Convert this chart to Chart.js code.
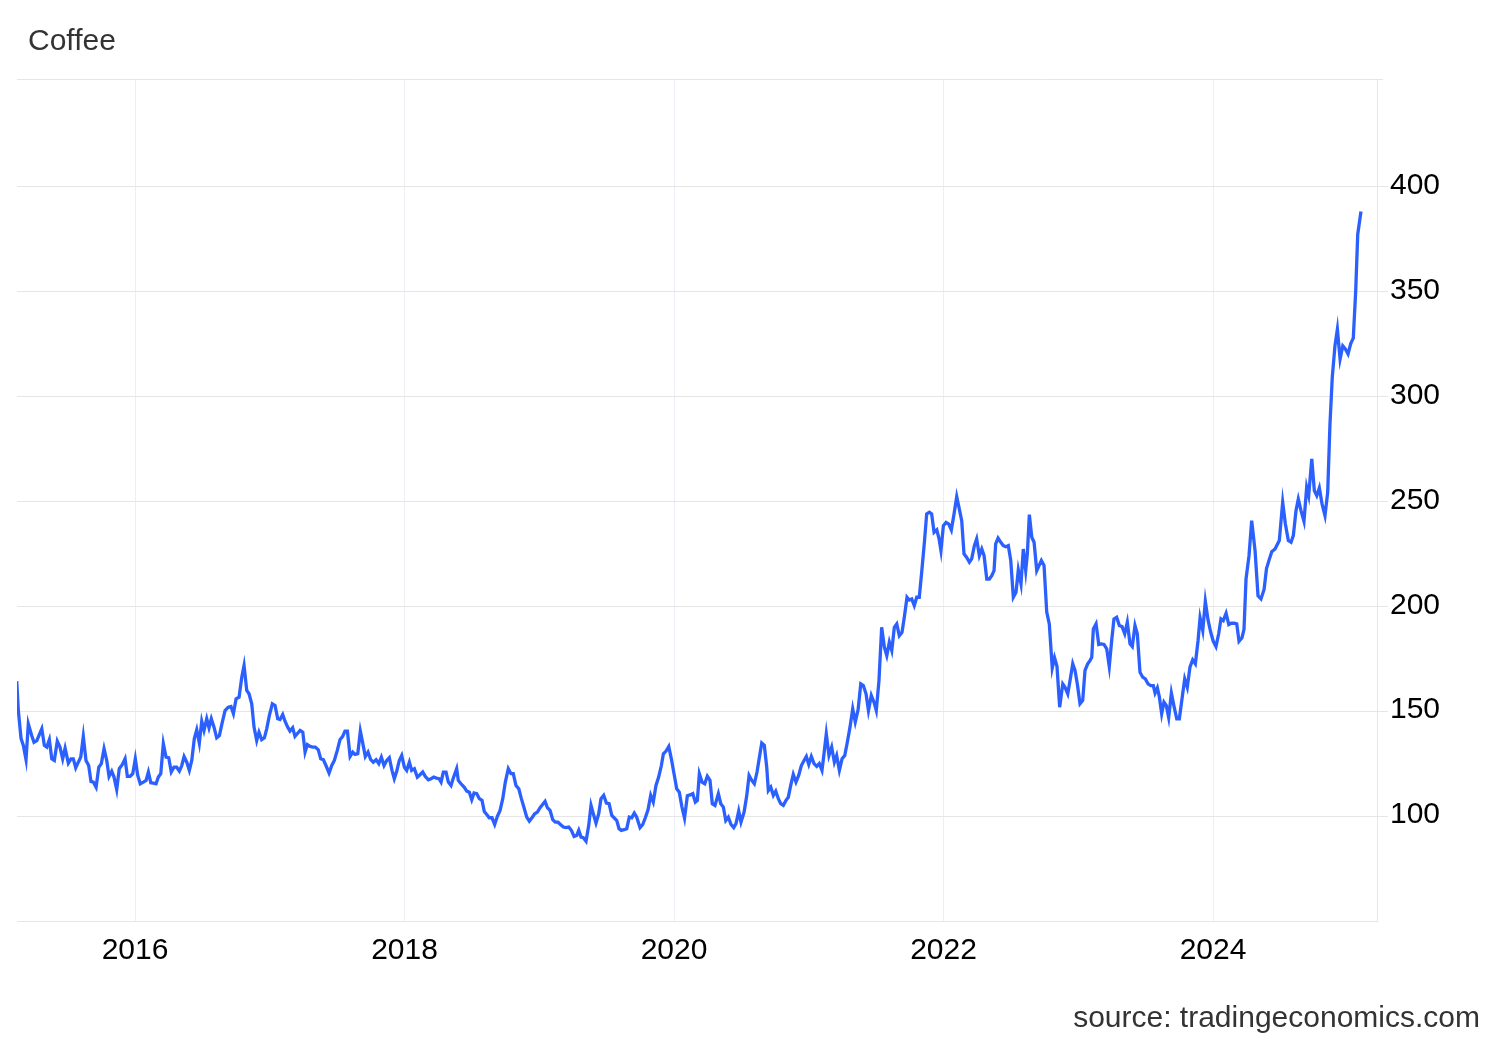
<!DOCTYPE html>
<html>
<head>
<meta charset="utf-8">
<title>Coffee</title>
<script src="https://cdn.jsdelivr.net/npm/chart.js@4.4.1/dist/chart.umd.min.js"></script>
<style>
  html, body { margin: 0; padding: 0; background: #fff; }
  #wrap { position: relative; width: 1500px; height: 1040px; font-family: 'Liberation Sans', Arial, sans-serif; }
  #chartCoffee { position: absolute; left: 0; top: 0; }
  .title { position: absolute; left: 28px; top: 25px; font-size: 30px; line-height: 30px; color: #333; white-space: nowrap; }
  .source { position: absolute; right: 20px; top: 1002px; font-size: 30px; line-height: 30px; color: #333; white-space: nowrap; }
</style>
</head>
<body>
<div id="wrap">
  <canvas id="chartCoffee" width="1500" height="1040"></canvas>
  <div class="title">Coffee</div>
  <div class="source">source: tradingeconomics.com</div>
</div>
<script>
// weekly coffee price (USd/Lbs), dates as decimal years
const dates = [
  2015.122, 2015.134, 2015.154, 2015.171, 2015.191, 2015.208, 2015.233, 2015.250, 2015.271, 2015.308,
  2015.327, 2015.345, 2015.364, 2015.382, 2015.401, 2015.423, 2015.443, 2015.463, 2015.481, 2015.505,
  2015.525, 2015.542, 2015.560, 2015.579, 2015.597, 2015.616, 2015.636, 2015.656, 2015.673, 2015.691,
  2015.711, 2015.731, 2015.750, 2015.770, 2015.790, 2015.807, 2015.827, 2015.844, 2015.864, 2015.883,
  2015.906, 2015.926, 2015.943, 2015.963, 2015.983, 2016.002, 2016.020, 2016.039, 2016.062, 2016.082,
  2016.099, 2016.117, 2016.136, 2016.156, 2016.173, 2016.191, 2016.210, 2016.230, 2016.250, 2016.269,
  2016.289, 2016.309, 2016.329, 2016.347, 2016.364, 2016.384, 2016.403, 2016.421, 2016.440, 2016.458,
  2016.477, 2016.495, 2016.512, 2016.532, 2016.549, 2016.566, 2016.586, 2016.606, 2016.626, 2016.646,
  2016.668, 2016.692, 2016.712, 2016.730, 2016.750, 2016.772, 2016.792, 2016.809, 2016.829, 2016.846,
  2016.866, 2016.883, 2016.903, 2016.920, 2016.940, 2016.960, 2016.977, 2016.997, 2017.019, 2017.039,
  2017.059, 2017.076, 2017.096, 2017.113, 2017.133, 2017.150, 2017.170, 2017.187, 2017.207, 2017.225,
  2017.245, 2017.262, 2017.279, 2017.299, 2017.319, 2017.338, 2017.360, 2017.378, 2017.397, 2017.417,
  2017.440, 2017.460, 2017.479, 2017.501, 2017.521, 2017.541, 2017.558, 2017.576, 2017.596, 2017.616,
  2017.633, 2017.653, 2017.672, 2017.690, 2017.709, 2017.729, 2017.749, 2017.768, 2017.789, 2017.809,
  2017.828, 2017.848, 2017.868, 2017.887, 2017.907, 2017.924, 2017.942, 2017.961, 2017.979, 2017.999,
  2018.016, 2018.036, 2018.053, 2018.073, 2018.095, 2018.115, 2018.135, 2018.154, 2018.177, 2018.197,
  2018.217, 2018.236, 2018.256, 2018.271, 2018.288, 2018.308, 2018.325, 2018.345, 2018.362, 2018.387,
  2018.399, 2018.419, 2018.442, 2018.462, 2018.481, 2018.499, 2018.516, 2018.536, 2018.555, 2018.575,
  2018.592, 2018.610, 2018.629, 2018.649, 2018.669, 2018.689, 2018.709, 2018.729, 2018.748, 2018.770,
  2018.790, 2018.807, 2018.827, 2018.848, 2018.867, 2018.887, 2018.907, 2018.926, 2018.946, 2018.966,
  2018.986, 2019.006, 2019.026, 2019.043, 2019.060, 2019.080, 2019.100, 2019.119, 2019.139, 2019.159,
  2019.179, 2019.199, 2019.219, 2019.238, 2019.258, 2019.278, 2019.293, 2019.310, 2019.327, 2019.347,
  2019.367, 2019.384, 2019.401, 2019.421, 2019.441, 2019.458, 2019.478, 2019.498, 2019.518, 2019.538,
  2019.555, 2019.575, 2019.592, 2019.609, 2019.629, 2019.649, 2019.668, 2019.686, 2019.705, 2019.723,
  2019.748, 2019.768, 2019.787, 2019.807, 2019.827, 2019.846, 2019.866, 2019.886, 2019.906, 2019.921,
  2019.941, 2019.961, 2019.980, 2020.000, 2020.020, 2020.039, 2020.059, 2020.078, 2020.099, 2020.119,
  2020.139, 2020.158, 2020.173, 2020.188, 2020.208, 2020.228, 2020.247, 2020.267, 2020.284, 2020.304,
  2020.329, 2020.347, 2020.366, 2020.384, 2020.403, 2020.423, 2020.443, 2020.460, 2020.480, 2020.497,
  2020.520, 2020.540, 2020.557, 2020.577, 2020.596, 2020.616, 2020.633, 2020.651, 2020.670, 2020.688,
  2020.700, 2020.718, 2020.737, 2020.755, 2020.774, 2020.792, 2020.811, 2020.831, 2020.848, 2020.866,
  2020.885, 2020.905, 2020.925, 2020.945, 2020.965, 2020.982, 2021.000, 2021.019, 2021.039, 2021.059,
  2021.078, 2021.098, 2021.113, 2021.130, 2021.150, 2021.170, 2021.190, 2021.207, 2021.227, 2021.247,
  2021.267, 2021.286, 2021.306, 2021.326, 2021.345, 2021.366, 2021.386, 2021.405, 2021.425, 2021.443,
  2021.464, 2021.484, 2021.501, 2021.521, 2021.541, 2021.561, 2021.579, 2021.598, 2021.616, 2021.635,
  2021.653, 2021.672, 2021.692, 2021.709, 2021.729, 2021.746, 2021.764, 2021.783, 2021.801, 2021.820,
  2021.838, 2021.858, 2021.875, 2021.895, 2021.912, 2021.930, 2021.950, 2021.967, 2021.981, 2021.999,
  2022.019, 2022.039, 2022.058, 2022.078, 2022.098, 2022.117, 2022.135, 2022.152, 2022.172, 2022.192,
  2022.209, 2022.229, 2022.246, 2022.266, 2022.284, 2022.301, 2022.321, 2022.340, 2022.358, 2022.375,
  2022.387, 2022.405, 2022.425, 2022.444, 2022.462, 2022.481, 2022.499, 2022.518, 2022.538, 2022.555,
  2022.575, 2022.592, 2022.610, 2022.622, 2022.637, 2022.655, 2022.672, 2022.692, 2022.709, 2022.726,
  2022.746, 2022.766, 2022.785, 2022.807, 2022.824, 2022.842, 2022.862, 2022.885, 2022.902, 2022.922,
  2022.939, 2022.959, 2022.976, 2022.993, 2023.013, 2023.033, 2023.050, 2023.070, 2023.087, 2023.100,
  2023.112, 2023.132, 2023.152, 2023.171, 2023.191, 2023.211, 2023.230, 2023.248, 2023.265, 2023.285,
  2023.305, 2023.325, 2023.345, 2023.364, 2023.384, 2023.401, 2023.421, 2023.438, 2023.458, 2023.478,
  2023.498, 2023.518, 2023.538, 2023.557, 2023.570, 2023.587, 2023.602, 2023.619, 2023.636, 2023.653,
  2023.671, 2023.691, 2023.711, 2023.731, 2023.750, 2023.770, 2023.790, 2023.809, 2023.829, 2023.849,
  2023.869, 2023.889, 2023.904, 2023.924, 2023.943, 2023.963, 2023.983, 2024.002, 2024.022, 2024.042,
  2024.059, 2024.076, 2024.097, 2024.117, 2024.136, 2024.156, 2024.176, 2024.193, 2024.215, 2024.230,
  2024.245, 2024.267, 2024.287, 2024.312, 2024.334, 2024.356, 2024.379, 2024.397, 2024.416, 2024.436,
  2024.460, 2024.492, 2024.517, 2024.537, 2024.559, 2024.579, 2024.596, 2024.616, 2024.633, 2024.653,
  2024.675, 2024.695, 2024.710, 2024.733, 2024.752, 2024.770, 2024.789, 2024.809, 2024.831, 2024.851,
  2024.868, 2024.885, 2024.905, 2024.923, 2024.943, 2024.963, 2024.982, 2025.002, 2025.022, 2025.041,
  2025.059, 2025.074, 2025.098
];
const prices = [
  164.3, 150.3, 137, 133.7, 126.9, 144, 138.4, 135.2, 136, 141.6,
  133.7, 132.9, 136.4, 127.3, 126.5, 135.7, 132.9, 127.3, 132.4, 125.2,
  127.3, 127.3, 123, 125.7, 128.1, 138, 126.5, 124.1, 116.5, 116.2,
  113.8, 123.3, 125, 132.1, 126.5, 118.9, 121.4, 118.6, 112.6, 122.6,
  124.6, 127.3, 118.9, 118.9, 120.2, 127.3, 119.4, 115.4, 116.2, 117,
  121, 115.9, 115.7, 115.4, 118.6, 120.2, 134.5, 128.1, 127.8, 121,
  123.3, 123.3, 121.4, 124.1, 128.4, 125.7, 121.8, 126.5, 136.9, 141.1,
  134.8, 145.2, 140.8, 146.4, 142.1, 146.4, 142.4, 137.3, 138.4, 144.3,
  150.3, 151.9, 152.2, 148.8, 155.9, 156.7, 166.2, 171.8, 159.9, 158.3,
  153.5, 142.4, 136, 140, 136.4, 137.3, 141.6, 148, 153.5, 152.7,
  146.4, 146, 148.4, 145.2, 142.4, 140.5, 142.1, 138, 139.5, 140.8,
  140, 130.5, 134.1, 133.2, 132.9, 132.9, 131.6, 127.3, 126.9, 124.1,
  120.5, 124.1, 126.5, 131.3, 136.4, 138, 140.5, 140.5, 128.4, 130.5,
  129.4, 129.7, 140.5, 134.8, 128.4, 130.5, 126.9, 125.7, 126.9, 125,
  128.1, 124.1, 126.5, 127.8, 121.8, 117.8, 121.4, 126.5, 128.9, 123.3,
  121.8, 125.7, 121.8, 122.6, 118.6, 119.7, 121, 118.9, 117.3, 117.8,
  118.6, 118.1, 117.8, 116.2, 121, 121, 116.2, 114.6, 118.1, 122.6,
  117, 115.4, 113.8, 111.9, 111.4, 107.8, 111, 110.7, 108.3, 107.5,
  102.2, 100.8, 99.2, 99.2, 96, 99.9, 102.7, 108.3, 116.2, 122.6,
  120.2, 120.2, 114.6, 113, 108.3, 104, 99.5, 97.6, 99.2, 101.1,
  101.9, 104, 105.6, 107, 104, 102.7, 98.3, 97.1, 97.1, 95.9,
  94.8, 94.5, 94.8, 93.2, 90.3, 90.8, 93.2, 90, 89.7, 88,
  95.6, 105.1, 101.1, 96.7, 101.1, 108.3, 109.9, 106.2, 105.9, 100.3,
  99.2, 97.9, 94, 93.2, 93.5, 94, 99.5, 99.2, 101.4, 99.5,
  94.5, 96, 99.2, 103, 109.9, 106.7, 114.6, 118.6, 124.1, 129.7,
  131, 133.2, 127.3, 120.2, 113, 111.4, 104.3, 99, 109.7, 110.1,
  110.7, 106.7, 107.5, 120.2, 116.2, 115.4, 119, 117, 105.9, 105.1,
  110.7, 105.9, 104.3, 97.9, 99.5, 96, 94.5, 96.4, 102.4, 97.1,
  101.9, 109.9, 119.4, 117, 115.4, 121, 127.8, 134.8, 133.7, 123.3,
  112.2, 113.8, 109.9, 111.9, 108.3, 105.9, 105.1, 107.5, 109, 114.6,
  119.9, 116.2, 119.4, 124.1, 126.5, 128.4, 124.6, 128.4, 125, 123.7,
  125, 121.8, 129.7, 139.2, 128.9, 132.9, 125.7, 128.9, 121.8, 127.3,
  128.9, 135.2, 142.4, 151.1, 144.8, 150.7, 163, 162.2, 158.3, 150.3,
  157.5, 154.3, 150.3, 164.6, 190, 180.5, 176.5, 182.9, 178.9, 190,
  191.6, 186, 187.6, 194.8, 204.3, 203, 203.5, 200.3, 204.3, 204.3,
  216.2, 230.5, 244, 244.8, 244, 235.2, 236.4, 232.1, 226.5, 238.4,
  240, 239.2, 236.4, 244, 252.2, 246.4, 240.8, 225, 223.3, 221,
  222.6, 228.9, 232.1, 224.1, 227.3, 224.1, 213, 213, 214.6, 217,
  229.7, 232.5, 230.5, 228.9, 228.4, 228.9, 221.8, 204.3, 206.7, 217.3,
  210.7, 227.3, 217, 225, 243.7, 232.9, 230.5, 217, 219.4, 221.8,
  219.4, 197.2, 191.6, 170.6, 175.5, 171.4, 151.9, 163, 161.4, 158.3,
  164.6, 172.6, 169.4, 163, 153.5, 155.1, 169.4, 172.6, 174.1, 175.7,
  189.2, 191.6, 181.8, 182.1, 181.8, 179.7, 171.3, 183.7, 194, 194.8,
  190.8, 190.3, 186.9, 192.4, 182.1, 180.8, 190.8, 186.9, 168.6, 166.2,
  165.4, 163, 162.2, 162.2, 158.6, 161.1, 156.7, 148.8, 154.3, 152.7,
  146.9, 158.6, 152.2, 146.4, 146.4, 155.9, 165.4, 161.4, 171, 174.5,
  172.6, 183.7, 194.5, 188.4, 202.4, 193.5, 187.6, 183.3, 180.8, 186.9,
  194, 193.2, 196.7, 191.3, 191.9, 191.9, 191.6, 183.3, 185, 189,
  213, 224, 240.8, 226.5, 205, 203.5, 208, 218, 222, 226,
  227.3, 231.3, 249.6, 239.2, 231.3, 230.5, 233.7, 245.6, 251.1, 245.6,
  240.5, 256.7, 252.7, 270.2, 255.1, 252.7, 256.4, 248.8, 243.2, 254.3,
  286.9, 309.1, 324.1, 332.1, 317.8, 324.1, 322.6, 320.2, 325.2, 327.8,
  350.3, 377.3, 388.1
];
const yearTicks = [2016, 2018, 2020, 2022, 2024];
const priceTicks = [100, 150, 200, 250, 300, 350, 400];

const FONT = "'Liberation Sans', Arial, sans-serif";

// thin frame line along the top of the plot area
const topBorder = {
  id: 'topBorder',
  afterDraw(chart) {
    const { ctx, chartArea } = chart;
    const y = Math.round(chartArea.top) + 0.5;
    ctx.save();
    ctx.strokeStyle = '#e6e6e6';
    ctx.lineWidth = 1;
    ctx.beginPath();
    ctx.moveTo(chartArea.left, y);
    ctx.lineTo(chartArea.right + 6, y);
    ctx.stroke();
    ctx.restore();
  }
};

const points = dates.map((d, i) => ({ x: d, y: prices[i] }));

new Chart(document.getElementById('chartCoffee'), {
  type: 'line',
  data: {
    datasets: [{
      label: 'Coffee',
      data: points,
      borderColor: '#2b60ff',
      borderWidth: 3.3,
      pointRadius: 0,
      tension: 0,
      fill: false
    }]
  },
  options: {
    responsive: false,
    devicePixelRatio: 1,
    animation: false,
    layout: { padding: { left: 17, top: 79, right: 0, bottom: 0 } },
    plugins: {
      legend: { display: false },
      tooltip: { enabled: false }
    },
    scales: {
      x: {
        type: 'linear',
        min: 2015.124,
        max: 2025.217,
        afterBuildTicks: (scale) => { scale.ticks = yearTicks.map(v => ({ value: v })); },
        afterFit: (scale) => { scale.height = 119; },
        grid: { color: '#eceff3', drawTicks: false },
        border: { display: true, color: '#e6e6e6' },
        ticks: {
          padding: 12,
          color: '#000',
          maxRotation: 0,
          autoSkip: false,
          font: { family: FONT, size: 30 },
          callback: (v) => String(v)
        }
      },
      y: {
        type: 'linear',
        position: 'right',
        min: 50,
        max: 451.3,
        afterBuildTicks: (scale) => { scale.ticks = priceTicks.map(v => ({ value: v })); },
        afterFit: (scale) => { scale.width = 123; },
        grid: { color: '#e6e6e6', drawTicks: true, tickLength: 11 },
        border: { display: true, color: '#e6e6e6' },
        ticks: {
          padding: 2,
          labelOffset: -1,
          color: '#000',
          font: { family: FONT, size: 30 },
          callback: (v) => String(v)
        }
      }
    }
  },
  plugins: [topBorder]
});
</script>
</body>
</html>
